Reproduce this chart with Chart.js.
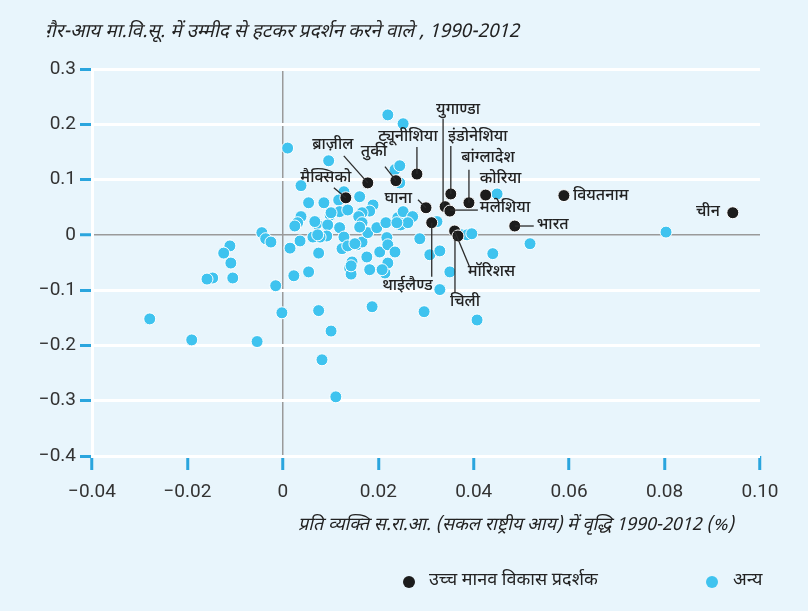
<!DOCTYPE html>
<html>
<head>
<meta charset="utf-8">
<script src="https://cdn.jsdelivr.net/npm/chart.js@4.4.0/dist/chart.umd.min.js"></script>
<style>
    html, body { margin: 0; padding: 0; background: #e8f5fc; }
    #wrap { width: 808px; height: 611px; }
</style>
</head>
<body>
<div id="wrap"><canvas id="chart" width="808" height="611"></canvas></div>
<script>
// उच्च मानव विकास प्रदर्शक (high performers)
const highNames = ['मैक्सिको', 'ब्राज\u093Cील', 'तुर्की', 'ट्यूनीशिया', 'युगाण्डा', 'मलेशिया', 'इंडोनेशिया', 'बांग्लादेश',
    'कोरिया', 'घाना', 'थाईलैण्ड', 'भारत', 'वियतनाम', 'चीन', 'मॉरिशस', 'चिली'];
const highX = [0.0132, 0.0178, 0.0237, 0.0281, 0.034, 0.035, 0.0352, 0.039,
    0.0425, 0.030, 0.0312, 0.0486, 0.0589, 0.0943, 0.036, 0.0367];
const highY = [0.067, 0.094, 0.098, 0.110, 0.051, 0.043, 0.074, 0.058,
    0.072, 0.049, 0.022, 0.016, 0.071, 0.040, 0.007, -0.002];

// अन्य (others)
const otherX = [0.0220, 0.0252, 0.0010, 0.0096, 0.0235, 0.0245, 0.0038, 0.0128, 0.0245, 0.0161,
    0.0054, 0.0086, 0.0117, 0.0189, 0.0182, 0.0166, 0.0159, 0.0166, 0.0099, 0.0119,
    0.0038, 0.0031, 0.0025, 0.0071, 0.0094, 0.0119, 0.0128, 0.0092, 0.0078, 0.0063,
    0.0036, 0.0015, 0.0075, 0.0124, 0.0136, 0.0155, 0.0166, 0.0178, 0.0197, 0.0216,
    0.0203, 0.0145, 0.0140, 0.0143, 0.0176, 0.0182, 0.0054, 0.0023, 0.0214, 0.0220,
    0.0241, 0.0252, 0.0247, 0.0272, 0.0262, 0.0218, 0.0220, 0.0235, 0.0287, 0.0308,
    0.0329, 0.0350, 0.0375, 0.0386, 0.0396, 0.0208, 0.0323, 0.0449, 0.0440, 0.0518,
    0.0803, 0.0329, 0.0407, 0.0296, 0.0187, 0.0075, -0.0002, 0.0101, 0.0082, 0.0111,
    -0.0054, -0.0191, -0.0279, -0.0044, -0.0036, -0.0025, -0.0111, -0.0124, -0.0109, -0.0147,
    -0.0159, -0.0105, -0.0015, 0.0101, 0.0067, 0.0161, 0.0239, 0.0073, 0.0151, 0.0143,
    0.0136];
const otherY = [0.217, 0.201, 0.157, 0.134, 0.118, 0.125, 0.089, 0.078, 0.094, 0.069,
    0.058, 0.058, 0.063, 0.054, 0.043, 0.040, 0.033, 0.022, 0.036, 0.042,
    0.033, 0.022, 0.016, 0.020, 0.018, 0.013, -0.004, -0.002, -0.004, -0.004,
    -0.011, -0.024, -0.033, -0.025, -0.020, -0.018, -0.013, 0.004, 0.013, 0.022,
    -0.031, -0.049, -0.060, -0.071, -0.040, -0.063, -0.067, -0.074, -0.069, -0.051,
    0.031, 0.042, 0.018, 0.033, 0.022, -0.005, -0.018, -0.031, -0.007, -0.036,
    -0.029, -0.067, 0.000, 0.000, 0.002, -0.063, 0.024, 0.074, -0.034, -0.016,
    0.005, -0.099, -0.154, -0.139, -0.130, -0.137, -0.141, -0.174, -0.226, -0.293,
    -0.193, -0.190, -0.152, 0.004, -0.007, -0.013, -0.020, -0.033, -0.051, -0.078,
    -0.080, -0.078, -0.092, 0.040, 0.024, 0.014, 0.022, 0.000, -0.016, -0.056,
    0.045];

const xTicks = [-0.04, -0.02, 0, 0.02, 0.04, 0.06, 0.08, 0.10];
const yTicks = [0.3, 0.2, 0.1, 0, -0.1, -0.2, -0.3, -0.4];

const titleText = 'ग\u093Cैर-आय मा.वि.सू. में उम्मीद से हटकर प्रदर्शन करने वाले , 1990-2012';
const xTitleText = 'प्रति व्यक्ति स.रा.आ. (सकल राष्ट्रीय आय) में वृद्धि 1990-2012 (%)';
const legendNames = ['उच्च मानव विकास प्रदर्शक', 'अन्य'];

const blue = '#3fc3ef';
const black = '#1c1c1c';
const tickBlue = '#2aa5de';
const hindiFont = "'Noto Sans Devanagari', 'Lohit Devanagari', 'Noto Sans', sans-serif";
const numFont = "'Liberation Sans Narrow', Roboto, 'DejaVu Sans', sans-serif";

// label placement for each high performer: text offset, alignment, leader line (offsets from the dot)
const labelLayout = [
    { dx: -20, dy: -19, align: 'center', line: [-12, -10, 0, 0] },
    { dx: -35, dy: -37, align: 'center', line: [-24, -27, 0, 0] },
    { dx: -22, dy: -28, align: 'center', line: [-11, -14, 0, 0] },
    { dx: -9, dy: -36, align: 'center', line: [0, -27, 0, 0] },
    { dx: 13, dy: -96, align: 'center', line: [-2, -88, -2, 0] },
    { dx: 30, dy: -2, align: 'left', line: [0, -1, 28, -1] },
    { dx: 27, dy: -56, align: 'center', line: [0, -48, 0, 0] },
    { dx: 19, dy: -44, align: 'center', line: [0, -33, 0, 0] },
    { dx: -6, dy: -15, align: 'left', line: null },
    { dx: -14, dy: -8, align: 'right', line: [-8, -8, 0, 0] },
    { dx: 1, dy: 64, align: 'right', line: [0, 0, 0, 54] },
    { dx: 22, dy: 0, align: 'left', line: [0, 0, 19, 0] },
    { dx: 9, dy: 1, align: 'left', line: null },
    { dx: -13, dy: 0, align: 'right', line: null },
    { dx: 13, dy: 42, align: 'left', line: [0, 0, 15, 36] },
    { dx: 7, dy: 67, align: 'center', line: [-3, 0, -3, 57] },
];

const fmt = (v, digits) => {
    if (Math.abs(v) < 1e-9) return '0';
    return (v < 0 ? '\u2212' : '') + Math.abs(v).toFixed(digits);
};

const textPlugin = {
    id: 'textPlugin',
    afterDatasetsDraw(chart) {
        const ctx = chart.ctx;
        const meta = chart.getDatasetMeta(0);
        ctx.save();

        // leader lines and country names
        ctx.strokeStyle = '#2b2b2b';
        ctx.lineWidth = 1.3;
        ctx.fillStyle = '#222';
        ctx.font = '500 16px ' + hindiFont;
        ctx.textBaseline = 'middle';
        meta.data.forEach((pt, i) => {
            const lay = labelLayout[i];
            if (lay.line) {
                ctx.beginPath();
                ctx.moveTo(pt.x + lay.line[0], pt.y + lay.line[1]);
                ctx.lineTo(pt.x + lay.line[2], pt.y + lay.line[3]);
                ctx.stroke();
            }
            ctx.textAlign = lay.align;
            ctx.fillText(highNames[i], pt.x + lay.dx, pt.y + lay.dy);
        });

        // chart title
        ctx.font = 'italic 19px ' + hindiFont;
        ctx.textAlign = 'left';
        ctx.fillText(titleText, 45, 33);

        // x axis title
        ctx.font = 'italic 18px ' + hindiFont;
        ctx.textAlign = 'center';
        ctx.fillText(xTitleText, 516, 527);

        // legend
        const items = [[409, black, 429], [712, blue, 733]];
        items.forEach(([cx, col, tx], i) => {
            ctx.beginPath();
            ctx.arc(cx, 582, 6, 0, Math.PI * 2);
            ctx.fillStyle = col;
            ctx.fill();
            ctx.fillStyle = '#222';
            ctx.font = '18px ' + hindiFont;
            ctx.textAlign = 'left';
            ctx.fillText(legendNames[i], tx, 582);
        });
        ctx.restore();
    },
};

const ctx = document.getElementById('chart').getContext('2d');
new Chart(ctx, {
    type: 'scatter',
    data: {
        datasets: [
            {
                label: legendNames[0],
                data: highX.map((x, i) => ({ x, y: highY[i] })),
                backgroundColor: black,
                borderColor: '#ffffff',
                borderWidth: 1,
                pointRadius: 6,
            },
            {
                label: legendNames[1],
                data: otherX.map((x, i) => ({ x, y: otherY[i] })),
                backgroundColor: blue,
                borderColor: '#ffffff',
                borderWidth: 1,
                pointRadius: 6,
            },
        ],
    },
    options: {
        responsive: false,
        animation: false,
        layout: { padding: { left: 20, right: 48, top: 69, bottom: 0 } },
        plugins: {
            legend: { display: false },
            tooltip: { enabled: false },
        },
        scales: {
            x: {
                type: 'linear',
                min: xTicks[0],
                max: xTicks[xTicks.length - 1],
                afterBuildTicks: (s) => { s.ticks = xTicks.map((v) => ({ value: v })); },
                afterFit: (s) => { s.height = 155; },
                border: { display: false },
                grid: {
                    color: (c) => (c.tick && Math.abs(c.tick.value) < 1e-9 ? '#9a9a9a' : 'rgba(0,0,0,0)'),
                    lineWidth: 1.5,
                    tickColor: tickBlue,
                    tickLength: 14,
                    tickWidth: 3,
                },
                ticks: {
                    color: '#333',
                    padding: 11,
                    font: { family: numFont, size: 19 },
                    callback: (v) => fmt(v, 2),
                },
            },
            y: {
                min: yTicks[yTicks.length - 1],
                max: yTicks[0],
                afterBuildTicks: (s) => { s.ticks = yTicks.map((v) => ({ value: v })); },
                afterFit: (s) => { s.width = 72; },
                border: { color: '#ffffff', width: 3 },
                grid: {
                    color: (c) => (c.tick && Math.abs(c.tick.value) < 1e-9 ? '#9a9a9a' : '#ffffff'),
                    lineWidth: (c) => (c.tick && Math.abs(c.tick.value) < 1e-9 ? 1.5 : 3),
                    tickColor: tickBlue,
                    tickLength: 12,
                    tickWidth: 3,
                },
                ticks: {
                    color: '#333',
                    padding: 4,
                    font: { family: numFont, size: 19 },
                    callback: (v) => fmt(v, 1),
                },
            },
        },
    },
    plugins: [textPlugin],
});
</script>
</body>
</html>
